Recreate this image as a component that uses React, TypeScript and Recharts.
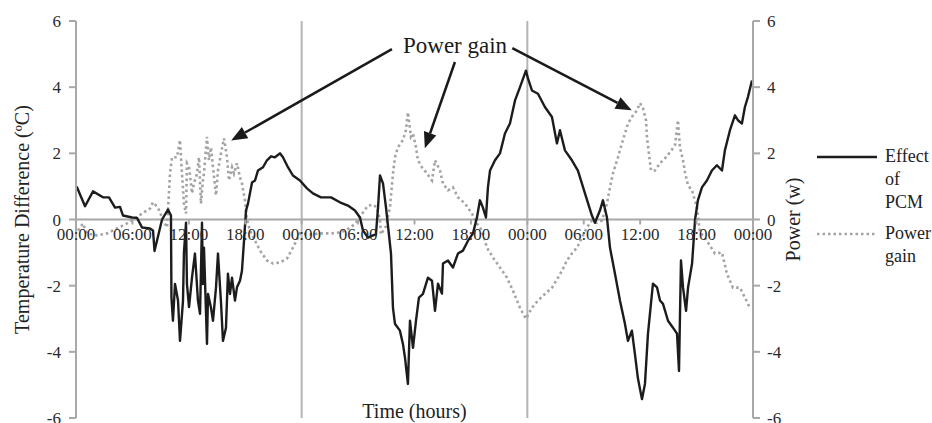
import React from "react";
import { LineChart, Line, XAxis, YAxis, ReferenceLine } from "recharts";

// Time axis in hours from the first midnight (three days)
const timeTicks = [0, 6, 12, 18, 24, 30, 36, 42, 48, 54, 60, 66, 72];
const valueTicks = [-6, -4, -2, 0, 2, 4, 6];

// Effect of PCM (temperature difference, ºC)
const pcmHours = [
  0.07, 0.96, 1.81, 2.87, 3.51, 4.15, 4.68, 5.0, 5.96, 6.49, 7.02, 7.87, 8.19, 8.35, 9.15, 9.78, 10.1,
  10.15, 10.31, 10.53, 10.85, 11.06, 11.38, 11.48, 11.7, 11.8, 12.02, 12.34, 12.65, 12.97, 13.19, 13.4,
  13.5, 13.61, 13.93, 14.04, 14.36, 14.57, 14.89, 15.1, 15.42, 15.63, 15.95, 16.16, 16.38, 16.59, 16.91,
  17.12, 17.44, 17.65, 17.87, 18.08, 18.29, 18.72, 19.04, 19.35, 19.89, 20.31, 20.74, 21.16, 21.69,
  22.01, 22.54, 23.07, 23.82, 24.56, 25.2, 26.05, 27.12, 28.07, 28.92, 29.67, 30.2, 30.52, 31.05, 31.58,
  31.9, 32.12, 32.33, 32.65, 32.97, 33.5, 33.71, 33.92, 34.45, 34.77, 34.99, 35.3, 35.52, 35.84, 36.16,
  36.47, 36.9, 37.43, 37.86, 38.18, 38.5, 38.92, 39.03, 39.56, 40.09, 40.62, 41.15, 41.69, 42.22, 42.64,
  42.96, 43.28, 43.6, 43.81, 44.03, 44.56, 45.09, 45.62, 46.15, 46.69, 47.22, 47.85, 48.06, 48.49, 49.13,
  49.87, 50.62, 51.15, 51.47, 52.0, 52.74, 53.38, 54.13, 54.87, 55.19, 55.72, 56.04, 56.47, 56.79, 57.32,
  57.85, 58.38, 58.7, 59.12, 59.44, 59.76, 60.19, 60.51, 60.83, 61.36, 61.79, 62.11, 62.43, 62.96, 63.49,
  63.92, 64.13, 64.34, 64.56, 64.88, 65.09, 65.52, 65.84, 66.14, 66.57, 67.1, 67.63, 68.16, 68.7, 69.01,
  69.55, 70.08, 70.4, 70.82, 71.14, 71.46, 71.89,
];
const pcmValues = [
  1.0, 0.4, 0.85, 0.67, 0.67, 0.36, 0.38, 0.12, 0.06, 0.05, -0.24, -0.27, -0.33, -0.95, 0.0, 0.3, 0.12,
  -2.36, -3.06, -1.95, -2.45, -3.67, -2.45, -1.0, -0.1, -1.95, -2.65, -1.75, -1.03, -2.45, -2.85, -0.1,
  -1.95, -0.85, -3.76, -2.25, -2.67, -3.06, -2.05, -1.03, -2.5, -3.67, -3.27, -1.64, -2.25, -1.76, -2.45,
  -2.05, -1.85, -1.55, -0.64, 0.27, 0.48, 1.12, 1.18, 1.48, 1.58, 1.79, 1.91, 1.88, 2.0,
  1.88, 1.58, 1.33, 1.18, 0.94, 0.79, 0.67, 0.67, 0.52, 0.42, 0.27, 0.06, -0.33, -0.55, -0.48,
  -0.45, 0.36, 1.33, 1.09, 0.36, -1.03, -2.67, -3.15, -3.36, -3.76, -4.18, -4.97, -3.06, -3.88, -3.06,
  -2.36, -2.25, -1.76, -1.85, -2.76, -1.94, -2.24, -1.33, -1.24, -1.45, -1.03, -0.94, -0.64, -0.42, 0.06,
  0.58, 0.36, 0.06, 0.97, 1.48, 1.79, 2.0, 2.6, 2.9, 3.6, 4.0, 4.5, 4.27, 3.9, 3.8,
  3.4, 3.1, 2.3, 2.7, 2.09, 1.79, 1.48, 0.79, 0.12, -0.1, 0.27, 0.58, 0.06, -0.85, -1.64,
  -2.45, -3.15, -3.67, -3.36, -4.06, -4.8, -5.43, -4.97, -3.45, -1.94, -2.05, -2.45, -2.55, -3.06, -3.27,
  -3.45, -4.58, -1.24, -2.06, -2.76, -2.06, -1.33, 0.0, 0.58, 0.97, 1.18, 1.48, 1.64, 1.48, 2.09,
  2.7, 3.15, 3.0, 2.9, 3.4, 3.7, 4.2,
];

// Power gain (W)
const gainHours = [
  0.21, 0.74, 1.17, 2.23, 3.3, 4.36, 5.42, 6.27, 7.02, 7.87, 8.19, 8.72, 9.15, 9.46, 9.68, 10.0, 10.21,
  10.74, 11.06, 11.27, 11.48, 11.7, 11.8, 12.02, 12.34, 12.55, 12.87, 13.08, 13.29, 13.5, 13.61, 13.93,
  14.14, 14.36, 14.57, 14.89, 15.1, 15.42, 15.74, 16.06, 16.27, 16.59, 16.8, 17.12, 17.44, 17.65, 17.97,
  18.18, 18.5, 19.04, 19.57, 20.31, 20.95, 21.69, 22.44, 23.07, 23.82, 24.99, 26.05, 27.12, 28.18, 29.24,
  29.99, 30.52, 31.05, 31.58, 32.01, 32.33, 32.43, 32.97, 33.39, 33.71, 33.92, 34.24, 34.77, 35.09, 35.3,
  35.62, 35.84, 36.16, 36.37, 36.79, 37.33, 37.86, 38.18, 38.71, 39.03, 39.56, 40.09, 40.62, 41.37, 42.11,
  42.64, 43.17, 43.71, 44.34, 45.09, 45.83, 46.47, 47.22, 47.85, 48.49, 49.13, 49.87, 50.62, 51.26, 51.68,
  52.21, 52.74, 53.28, 53.81, 54.34, 54.87, 55.4, 55.94, 56.47, 56.79, 57.1, 57.64, 58.06, 58.38, 58.7,
  59.12, 59.66, 59.98, 60.3, 60.62, 60.72, 60.93, 61.15, 61.57, 62.11, 62.64, 63.17, 63.7, 64.02, 64.23,
  64.56, 64.77, 65.09, 65.52, 66.04, 66.36, 66.89, 67.95, 68.7, 69.23, 69.86, 70.61, 71.14, 71.67,
];
const gainValues = [
  -0.33, -0.12, -0.42, -0.48, -0.42, -0.27, -0.12, 0.03, 0.18, 0.33, 0.52, 0.36, 0.06, -0.12, -0.24, 1.39, 1.88,
  1.88, 2.4, 1.39, 0.48, 0.18, 1.7, 1.6, 0.79, 1.09, 1.39, 1.88, 0.48, 1.18, 1.39, 2.5,
  1.79, 2.18, 1.58, 0.73, 1.48, 2.0, 2.45, 1.88, 1.18, 1.58, 1.39, 1.7, 1.27, 1.09, 0.58,
  0.0, -0.33, -0.64, -0.94, -1.24, -1.33, -1.3, -1.18, -0.85, -0.42, -0.45, -0.42, -0.42, -0.39, -0.24,
  -0.03, 0.21, 0.42, 0.45, 0.36, -0.03, -0.45, -0.2, 0.36, 1.39, 1.88, 2.18, 2.4, 2.7, 3.24,
  2.5, 2.6, 2.18, 1.79, 1.58, 1.39, 1.18, 1.79, 1.48, 1.09, 0.88, 0.97, 0.67, 0.48, 0.18,
  -0.12, -0.33, -0.85, -1.15, -1.45, -1.76, -2.15, -2.67, -3.0, -2.67, -2.45, -2.25, -2.06, -1.76, -1.55,
  -1.24, -1.03, -0.85, -0.55, -0.24, -0.03, -0.1, -0.03, 0.48, 0.97, 1.39, 1.88, 2.3, 2.6, 2.9,
  3.1, 3.3, 3.52, 3.36, 3.0, 2.5, 2.0, 1.48, 1.48, 1.7, 1.85, 2.03, 2.24, 3.0, 2.18,
  1.79, 1.42, 1.03, 0.88, 0.36, -0.39, -0.55, -1.03, -1.0, -1.64, -2.06, -2.06, -2.36, -2.67,
];

// "Power gain" callout arrows: [tail, tip] in (hours, value)
const calloutArrows = [
  [{ x: 33.6, y: 5.15 }, { x: 16.5, y: 2.39 }],
  [{ x: 40.3, y: 4.76 }, { x: 37.1, y: 2.15 }],
  [{ x: 46.4, y: 5.18 }, { x: 59.1, y: 3.3 }],
];

const pcmData = pcmHours.map((h, i) => ({ h, v: pcmValues[i] }));
const gainData = gainHours.map((h, i) => ({ h, v: gainValues[i] }));

const W = 932;
const H = 423;
const X_AXIS_H = 5;
const MARGIN = { top: 21, right: 119, bottom: 0, left: 0 };
const PLOT_H = H - MARGIN.top - MARGIN.bottom - X_AXIS_H;
const AXIS_GREY = "#a8a8a8";
const FONT = "'Liberation Serif', 'Times New Roman', serif";
const TEXT = "#2a2a2a";

const fmtTime = (h: number) => `${String(h % 24).padStart(2, "0")}:00`;

// x ticks sit on the zero line rather than at the bottom of the plot
const TimeTick = (props: any) => {
  const { x, y, payload } = props;
  const zeroY = y - PLOT_H / 2;
  return (
    <g>
      <line x1={x} x2={x} y1={zeroY} y2={zeroY + 5} stroke={AXIS_GREY} strokeWidth={2} />
      <text x={x} y={zeroY + 20} textAnchor="middle" fontSize={17} fill={TEXT} fontFamily={FONT}>
        {fmtTime(payload.value)}
      </text>
    </g>
  );
};

const Arrow = (props: any) => {
  const { x1, y1, x2, y2 } = props;
  const ang = Math.atan2(y2 - y1, x2 - x1);
  const len = 16;
  const half = 6.5;
  const bx = x2 - len * Math.cos(ang);
  const by = y2 - len * Math.sin(ang);
  const px = -Math.sin(ang) * half;
  const py = Math.cos(ang) * half;
  return (
    <g>
      <line x1={x1} y1={y1} x2={bx} y2={by} stroke="#1a1a1a" strokeWidth={2.5} />
      <polygon points={`${x2},${y2} ${bx + px},${by + py} ${bx - px},${by - py}`} fill="#1a1a1a" />
    </g>
  );
};

const tickStyle = { fontSize: 17, fill: TEXT, fontFamily: FONT };
const titleStyle = { fontSize: 20, fill: "#222", fontFamily: FONT };

export default function App() {
  return (
    <div style={{ position: "absolute", left: 0, top: 0, width: W, height: H, background: "#fff", fontFamily: FONT }}>
      <LineChart width={W} height={H} data={pcmData} margin={MARGIN} style={{ fontFamily: FONT }}>
        <XAxis
          dataKey="h"
          type="number"
          domain={[0, 72]}
          ticks={timeTicks}
          interval={0}
          height={X_AXIS_H}
          axisLine={false}
          tickLine={false}
          tickSize={0}
          tickMargin={0}
          tick={<TimeTick />}
          label={{ value: "Time (hours)", position: "top", offset: 0, ...titleStyle }}
        />
        <YAxis
          yAxisId="left"
          domain={[-6, 6]}
          ticks={valueTicks}
          interval={0}
          width={76}
          axisLine={{ stroke: AXIS_GREY, strokeWidth: 2 }}
          tickLine={{ stroke: AXIS_GREY, strokeWidth: 2 }}
          tickSize={7}
          tickMargin={8}
          tick={tickStyle}
          label={{
            value: "Temperature Difference (ºC)",
            angle: -90,
            position: "insideLeft",
            offset: 22,
            ...titleStyle,
            style: { textAnchor: "middle", fontFamily: FONT },
          }}
        />
        <YAxis
          yAxisId="right"
          orientation="right"
          domain={[-6, 6]}
          ticks={valueTicks}
          interval={0}
          width={60}
          axisLine={{ stroke: AXIS_GREY, strokeWidth: 2 }}
          tickLine={{ stroke: AXIS_GREY, strokeWidth: 2 }}
          tickSize={7}
          tickMargin={7}
          tick={tickStyle}
          label={{
            value: "Power (w)",
            angle: -90,
            position: "insideRight",
            offset: 20,
            ...titleStyle,
            style: { textAnchor: "middle", fontFamily: FONT },
          }}
        />
        <ReferenceLine yAxisId="left" x={24} stroke="#b4b4b4" strokeWidth={2} />
        <ReferenceLine yAxisId="left" x={48} stroke="#b4b4b4" strokeWidth={2} />
        <ReferenceLine yAxisId="left" y={0} stroke={AXIS_GREY} strokeWidth={2} />
        <Line
          yAxisId="right"
          data={gainData}
          dataKey="v"
          stroke="#a3a3a3"
          strokeWidth={2.6}
          strokeDasharray="2.5 3"
          dot={false}
          isAnimationActive={false}
        />
        <Line
          yAxisId="left"
          data={pcmData}
          dataKey="v"
          stroke="#1c1c1c"
          strokeWidth={2.4}
          strokeLinejoin="round"
          dot={false}
          isAnimationActive={false}
        />
        {calloutArrows.map((seg, i) => (
          <ReferenceLine key={i} yAxisId="left" segment={seg} shape={<Arrow />} ifOverflow="visible" />
        ))}
      </LineChart>

      <div style={{ position: "absolute", left: 403, top: 33, fontSize: 23, color: "#1a1a1a", whiteSpace: "nowrap" }}>
        Power gain
      </div>

      <div style={{ position: "absolute", left: 816, top: 145, fontSize: 18, lineHeight: "23px", color: "#222" }}>
        <div style={{ display: "flex" }}>
          <svg width={62} height={23}>
            <line x1={1} x2={61} y1={12} y2={12} stroke="#1c1c1c" strokeWidth={2.4} />
          </svg>
          <div style={{ marginLeft: 7 }}>
            Effect
            <br />
            of
            <br />
            PCM
          </div>
        </div>
        <div style={{ display: "flex", marginTop: 8 }}>
          <svg width={62} height={23}>
            <line x1={1} x2={61} y1={12} y2={12} stroke="#a3a3a3" strokeWidth={2.6} strokeDasharray="2.5 3" />
          </svg>
          <div style={{ marginLeft: 7 }}>
            Power
            <br />
            gain
          </div>
        </div>
      </div>
    </div>
  );
}
